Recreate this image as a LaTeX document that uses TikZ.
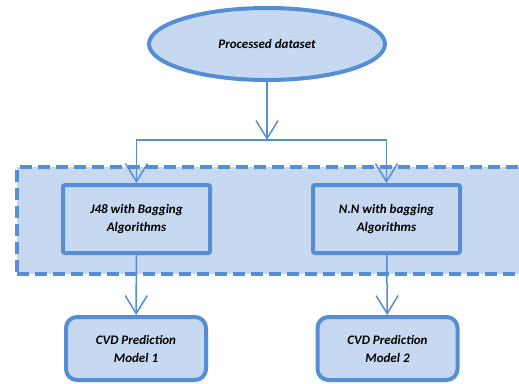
\documentclass[tikz,border=0pt]{standalone}
\usepackage{fontspec}
\setmainfont{Carlito}
\usepackage{xcolor}
\usetikzlibrary{shapes, positioning, arrows.meta}
\definecolor{boxfill}{RGB}{198,217,240}
\definecolor{boxline}{RGB}{85,142,213}

\begin{document}
\begin{tikzpicture}[x=1pt, y=-1pt,
    every node/.style={font=\fontsize{13}{18}\selectfont\bfseries\itshape, align=center},
    blk/.style={draw=boxline, fill=boxfill, line width=4pt},
    algbox/.style={blk, rectangle, rounded corners=2pt, minimum width=147pt, minimum height=68pt},
    modelbox/.style={blk, rectangle, rounded corners=11pt, minimum width=140pt, minimum height=63pt},
    band/.style={draw=boxline, fill=boxfill, line width=4pt, dash pattern=on 12pt off 6pt},
    arr/.style={draw=boxline, line width=1.5pt, -{Straight Barb[length=18pt, width=22pt]}}]
    \useasboundingbox (0,0) rectangle (519,383);

    \node[band, minimum width=530pt, minimum height=107pt, anchor=north west] (grp) at (15,165) {};

    \node[blk, ellipse, minimum width=236pt, minimum height=72pt] (data) at (267,44) {Processed dataset};
    \node[algbox] (j48) at (136.5,219) {J48 with Bagging\\Algorithms};
    \node[algbox] (nn) at (386.5,219) {N.N with bagging\\Algorithms};
    \node[modelbox] (m1) at (136,348.5) {CVD Prediction\\Model 1};
    \node[modelbox] (m2) at (387.5,348.5) {CVD Prediction\\Model 2};
    \coordinate (split) at (267,140);

    \draw[arr] (data) -- (split);
    \draw[arr] (split) -| (j48);
    \draw[arr] (split) -| (nn);
    \draw[arr] (j48) -- (m1);
    \draw[arr] (nn) -- (m2);
\end{tikzpicture}
\end{document}
